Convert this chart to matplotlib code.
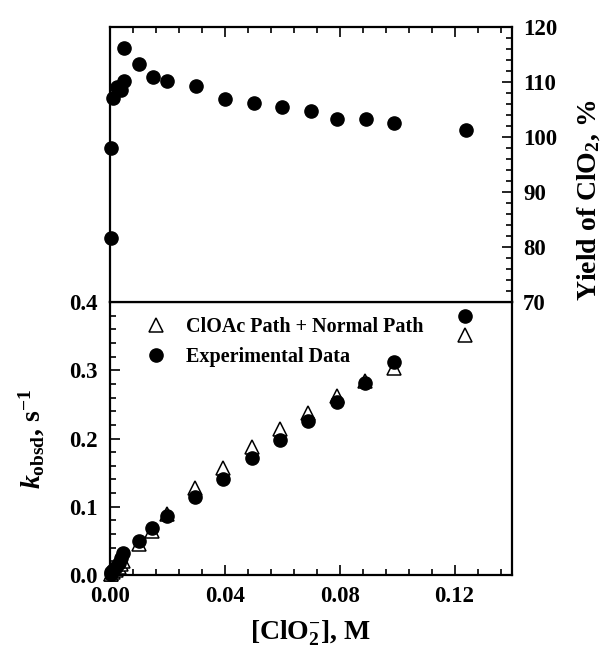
import numpy as np
import matplotlib
matplotlib.use("Agg")
import matplotlib.pyplot as plt
from matplotlib.ticker import MultipleLocator
from matplotlib.lines import Line2D

plt.rcParams['font.family'] = 'Liberation Serif'
plt.rcParams['font.weight'] = 'bold'
plt.rcParams['mathtext.fontset'] = 'custom'
plt.rcParams['mathtext.rm'] = 'Liberation Serif:bold'
plt.rcParams['mathtext.bf'] = 'Liberation Serif:bold'
plt.rcParams['mathtext.it'] = 'Liberation Serif:italic:bold'

# yield of ClO2 (top panel)
yield_conc = [0.0002, 0.0004, 0.001, 0.0023, 0.0038, 0.0048, 0.005, 0.01, 0.015, 0.02,
              0.03, 0.04, 0.05, 0.06, 0.07, 0.079, 0.089, 0.099, 0.124]
yield_pct = [81.6, 98.0, 107.1, 109.1, 108.5, 110.2, 116.2, 113.2, 110.9, 110.1,
             109.3, 107.0, 106.2, 105.5, 104.7, 103.3, 103.3, 102.5, 101.2]

# k_obsd (bottom panel)
k_conc = [0.0002, 0.0005, 0.001, 0.002, 0.003, 0.004, 0.0046, 0.01, 0.0145, 0.0197,
          0.0296, 0.0394, 0.0493, 0.0591, 0.069, 0.0789, 0.0887, 0.0989, 0.1237]
k_exp = [0.002, 0.004, 0.007, 0.012, 0.018, 0.025, 0.032, 0.050, 0.069, 0.086,
         0.115, 0.141, 0.171, 0.198, 0.225, 0.253, 0.282, 0.312, 0.380]
k_model = [0.001, 0.002, 0.004, 0.008, 0.012, 0.016, 0.020, 0.046, 0.065, 0.090,
           0.127, 0.157, 0.187, 0.214, 0.238, 0.263, 0.285, 0.304, 0.352]

x_ticks = [0.00, 0.04, 0.08, 0.12]
k_ticks = [0.0, 0.1, 0.2, 0.3, 0.4]
yield_ticks = [70, 80, 90, 100, 110, 120]

fig = plt.figure(figsize=(6.09, 6.57), dpi=100)
left, right = 0.1806, 0.8407
bot, mid, top = 0.1248, 0.5403, 0.9589
ax_k = fig.add_axes([left, bot, right - left, mid - bot])
ax_y = fig.add_axes([left, mid, right - left, top - mid])

for ax in (ax_k, ax_y):
    for s in ax.spines.values():
        s.set_linewidth(1.6)
    ax.set_xlim(0, 0.14)
    ax.xaxis.set_major_locator(MultipleLocator(0.04))
    ax.xaxis.set_minor_locator(MultipleLocator(0.008))
    ax.tick_params(which='both', direction='in', width=1.2, labelsize=16.5)
    ax.tick_params(which='major', length=7)
    ax.tick_params(which='minor', length=4)

# top panel
ax_y.plot(yield_conc, yield_pct, 'o', color='black', ms=9.5, clip_on=False)
ax_y.set_ylim(70, 120)
ax_y.set_yticks(yield_ticks)
ax_y.yaxis.set_minor_locator(MultipleLocator(2))
ax_y.tick_params(axis='x', which='both', top=True, bottom=False, labelbottom=False)
ax_y.tick_params(axis='y', which='both', left=False, labelleft=False, right=True, labelright=True, pad=8)
ax_y.set_ylabel(r'Yield of ClO$_{\mathbf{2}}$, %', fontsize=20, fontweight='bold')
ax_y.yaxis.set_label_position('right')
ax_y.yaxis.set_label_coords(1.158, 0.37)

# bottom panel
ax_k.plot(k_conc, k_model, '^', mfc='white', mec='black', mew=1.1, ms=9.5, zorder=2, clip_on=False)
ax_k.plot(k_conc, k_exp, 'o', color='black', ms=9.5, zorder=3, clip_on=False)
ax_k.set_ylim(0, 0.4)
ax_k.set_yticks(k_ticks)
ax_k.yaxis.set_minor_locator(MultipleLocator(0.02))
ax_k.set_xticks(x_ticks)
ax_k.set_xticklabels(['%.2f' % v for v in x_ticks])
ax_k.set_yticklabels(['%.1f' % v for v in k_ticks])
ax_k.tick_params(axis='x', which='both', top=False, bottom=True, pad=8)
ax_k.tick_params(axis='y', which='both', right=False, pad=9)
ax_k.set_xlabel(r'[ClO$_{\mathbf{2}}^{\mathbf{-}}$], M', fontsize=20, fontweight='bold', labelpad=8)
ax_k.set_ylabel(r'$k_{\mathbf{obsd}}$, s$^{\mathbf{-1}}$', fontsize=20, fontweight='bold', labelpad=16)

handles = [Line2D([], [], ls='none', marker='^', mfc='white', mec='black', mew=1.1, ms=9.5),
           Line2D([], [], ls='none', marker='o', color='black', ms=9.5)]
ax_k.legend(handles, ['ClOAc Path + Normal Path', 'Experimental Data'],
            loc='upper left', bbox_to_anchor=(0.02, 1.01), frameon=False,
            prop={'family': 'Liberation Serif', 'weight': 'bold', 'size': 14.5},
            handletextpad=0.5, labelspacing=0.5)

fig.savefig('out.png', dpi=100)
